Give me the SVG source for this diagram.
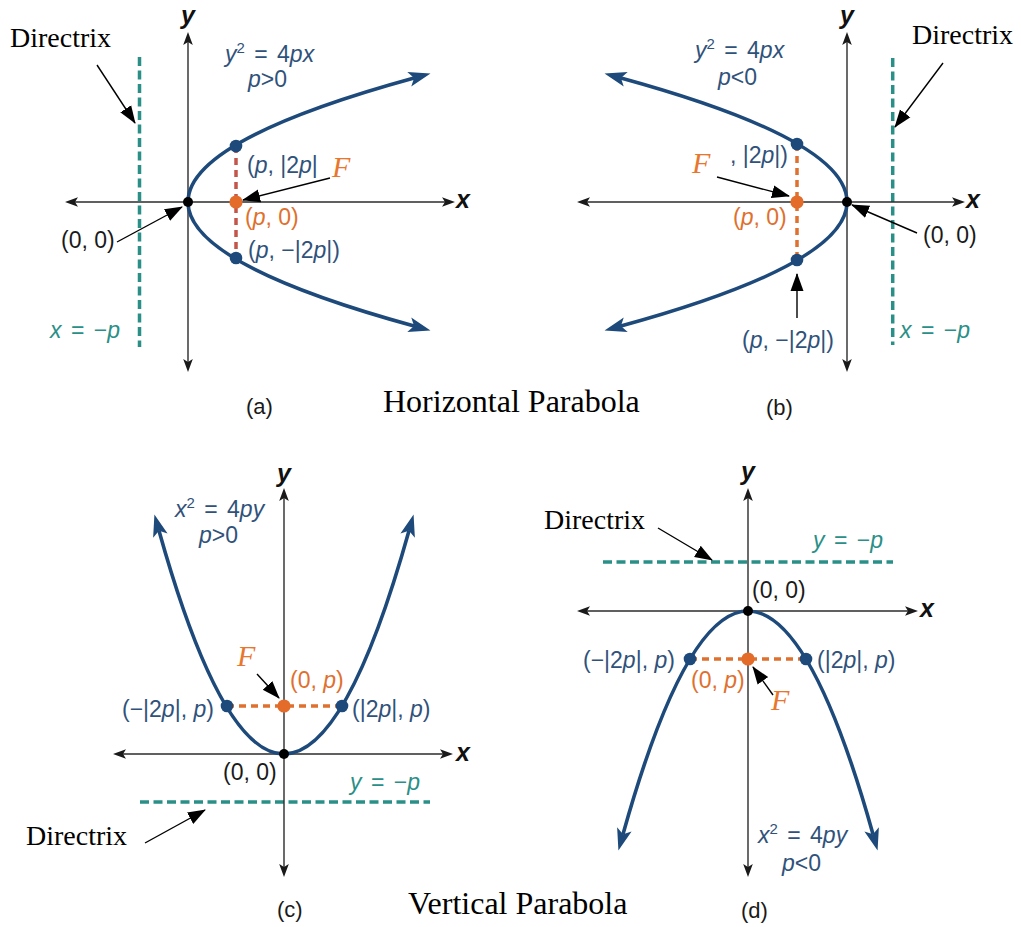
<svg xmlns="http://www.w3.org/2000/svg" width="1021" height="927" viewBox="0 0 1021 927">
<style>
.axis{stroke:#2b2b2b;stroke-width:1.4;fill:none;marker-start:url(#ax);marker-end:url(#ax)}
.curve{stroke:#1d4a7a;stroke-width:3.6;fill:none;marker-start:url(#cv);marker-end:url(#cv)}
.dirx{stroke:#2a8f87;stroke-width:3.5;stroke-dasharray:9 4.5;fill:none}
.chord{stroke:#e0702e;stroke-width:3.5;stroke-dasharray:7 5;fill:none}
.chordr{stroke:#c4554a;stroke-width:3.5;stroke-dasharray:7 5;fill:none}
.ptr{stroke:#000;stroke-width:1.4;fill:none;marker-end:url(#pt)}
.nd{fill:#1d4a7a}.fd{fill:#e46c2a}.od{fill:#000}
text{font-family:"Liberation Sans",Arial,sans-serif}
.lab{font-size:23px;fill:#30527a}
.olab{font-size:23px;fill:#e0702e}
.blab{font-size:23px;fill:#1a1a1a}
.tlab{font-size:23px;fill:#2a8f87}
.cap{font-size:22px;fill:#1a1a1a}
.ax{font-size:25px;font-weight:bold;font-style:italic;fill:#111}
.ser{font-family:"Liberation Serif","Times New Roman",serif;fill:#000}
.dir{font-size:28px}
.title{font-size:32px}
.F{font-family:"Liberation Serif","Times New Roman",serif;font-style:italic;font-size:30px;fill:#e8772e}
.i{font-style:italic}
.sup{font-size:15px}
.eq{word-spacing:3px}
</style>
<defs>
<marker id="ax" markerUnits="userSpaceOnUse" markerWidth="14" markerHeight="12" viewBox="0 -6 14 12" refX="3" refY="0" orient="auto-start-reverse"><path d="M13,0 L0,-4.8 L3,0 L0,4.8 z" fill="#1a1a1a"/></marker>
<marker id="cv" markerUnits="userSpaceOnUse" markerWidth="24" markerHeight="18" viewBox="0 -9 24 18" refX="5" refY="0" orient="auto-start-reverse"><path d="M22,0 L0,-7.5 L5,0 L0,7.5 z" fill="#1d4a7a"/></marker>
<marker id="pt" markerUnits="userSpaceOnUse" markerWidth="20" markerHeight="16" viewBox="0 -8 20 16" refX="17" refY="0" orient="auto"><path d="M18,0 L0,-6.5 L0,6.5 z" fill="#000"/></marker>
</defs>
<rect width="1021" height="927" fill="#fff"/>

<g id="panel-a">
<line class="dirx" x1="139.5" y1="57" x2="139.5" y2="347"/>
<line class="axis" x1="188" y1="42" x2="188" y2="362"/>
<line class="axis" x1="75" y1="202" x2="445" y2="202"/>
<path class="curve" d="M414.1,78 Q-38.1,202 414.1,326"/>
<line class="chordr" x1="236" y1="146" x2="236" y2="258"/>
<circle class="nd" cx="236" cy="146" r="6.3"/>
<circle class="nd" cx="236" cy="258" r="6.3"/>
<circle class="fd" cx="236" cy="202" r="6.6"/>
<circle class="od" cx="188" cy="202" r="5"/>
<text class="ax" x="181" y="24">y</text>
<text class="ax" x="456" y="208">x</text>
<text class="ser dir" x="10" y="47">Directrix</text>
<text class="lab eq" x="225" y="62"><tspan class="i">y</tspan><tspan class="sup" dy="-9">2</tspan><tspan dy="9"> = 4</tspan><tspan class="i">px</tspan></text>
<text class="lab" x="248" y="87"><tspan class="i">p</tspan>&gt;0</text>
<text class="lab" x="247" y="173">(<tspan class="i">p</tspan>, |2<tspan class="i">p</tspan>|</text>
<text class="F" x="332" y="177">F</text>
<text class="olab" x="245" y="225">(<tspan class="i">p</tspan>, 0)</text>
<text class="lab" x="248" y="258">(<tspan class="i">p</tspan>, −|2<tspan class="i">p</tspan>|)</text>
<text class="blab" x="61" y="248">(0, 0)</text>
<text class="tlab eq" x="50" y="338"><tspan class="i">x</tspan> = −<tspan class="i">p</tspan></text>
<text class="cap" x="246" y="414">(a)</text>
</g>

<g id="panel-b">
<line class="dirx" x1="892.7" y1="58" x2="892.7" y2="345"/>
<line class="axis" x1="847" y1="42" x2="847" y2="362"/>
<line class="axis" x1="587" y1="202" x2="955" y2="202"/>
<path class="curve" d="M620.9,78 Q1073.1,202 620.9,326"/>
<line class="chord" x1="797" y1="144" x2="797" y2="260"/>
<circle class="nd" cx="797" cy="144" r="6.3"/>
<circle class="nd" cx="797" cy="260" r="6.3"/>
<circle class="fd" cx="797" cy="202" r="6.6"/>
<circle class="od" cx="847" cy="202" r="5"/>
<text class="ax" x="840" y="24">y</text>
<text class="ax" x="966" y="208">x</text>
<text class="ser dir" x="912" y="44">Directrix</text>
<text class="lab eq" x="695" y="58"><tspan class="i">y</tspan><tspan class="sup" dy="-9">2</tspan><tspan dy="9"> = 4</tspan><tspan class="i">px</tspan></text>
<text class="lab" x="718" y="85"><tspan class="i">p</tspan>&lt;0</text>
<text class="lab" x="730" y="163">, |2<tspan class="i">p</tspan>|)</text>
<text class="F" x="692" y="173">F</text>
<text class="olab" x="733" y="225">(<tspan class="i">p</tspan>, 0)</text>
<text class="blab" x="923" y="243">(0, 0)</text>
<text class="lab" x="742" y="348">(<tspan class="i">p</tspan>, −|2<tspan class="i">p</tspan>|)</text>
<text class="tlab eq" x="900" y="338"><tspan class="i">x</tspan> = −<tspan class="i">p</tspan></text>
<text class="cap" x="766" y="415">(b)</text>
</g>

<g id="panel-c">
<line class="dirx" x1="140" y1="802" x2="430" y2="802"/>
<line class="axis" x1="284" y1="498" x2="284" y2="867"/>
<line class="axis" x1="123" y1="754" x2="443" y2="754"/>
<path class="curve" d="M159,530.8 Q284,977.2 409,530.8"/>
<line class="chord" x1="227" y1="706" x2="342" y2="706"/>
<circle class="nd" cx="227" cy="706" r="6.3"/>
<circle class="nd" cx="342" cy="706" r="6.3"/>
<circle class="fd" cx="284" cy="706" r="6.6"/>
<circle class="od" cx="284" cy="754" r="5"/>
<text class="ax" x="277" y="482">y</text>
<text class="ax" x="456" y="761">x</text>
<text class="ser dir" x="26" y="845">Directrix</text>
<text class="lab eq" x="175" y="517"><tspan class="i">x</tspan><tspan class="sup" dy="-9">2</tspan><tspan dy="9"> = 4</tspan><tspan class="i">py</tspan></text>
<text class="lab" x="199" y="543"><tspan class="i">p</tspan>&gt;0</text>
<text class="F" x="237" y="666">F</text>
<text class="olab" x="290" y="688">(0, <tspan class="i">p</tspan>)</text>
<text class="lab" x="122" y="717">(−|2<tspan class="i">p</tspan>|, <tspan class="i">p</tspan>)</text>
<text class="lab" x="352" y="717">(|2<tspan class="i">p</tspan>|, <tspan class="i">p</tspan>)</text>
<text class="blab" x="223" y="780">(0, 0)</text>
<text class="tlab eq" x="350" y="790"><tspan class="i">y</tspan> = −<tspan class="i">p</tspan></text>
<text class="cap" x="277" y="917">(c)</text>
</g>

<g id="panel-d">
<line class="dirx" x1="603" y1="562" x2="893" y2="562"/>
<line class="axis" x1="748" y1="498" x2="748" y2="867"/>
<line class="axis" x1="587" y1="611" x2="908" y2="611"/>
<path class="curve" d="M623,834.2 Q748,387.8 873,834.2"/>
<line class="chord" x1="690" y1="659" x2="806" y2="659"/>
<circle class="nd" cx="690" cy="659" r="6.3"/>
<circle class="nd" cx="806" cy="659" r="6.3"/>
<circle class="fd" cx="748" cy="659" r="6.6"/>
<circle class="od" cx="748" cy="611" r="5"/>
<text class="ax" x="741" y="480">y</text>
<text class="ax" x="920" y="617">x</text>
<text class="ser dir" x="544" y="529">Directrix</text>
<text class="tlab eq" x="813" y="548"><tspan class="i">y</tspan> = −<tspan class="i">p</tspan></text>
<text class="blab" x="752" y="598">(0, 0)</text>
<text class="lab" x="583" y="668">(−|2<tspan class="i">p</tspan>|, <tspan class="i">p</tspan>)</text>
<text class="lab" x="817" y="668">(|2<tspan class="i">p</tspan>|, <tspan class="i">p</tspan>)</text>
<text class="olab" x="691" y="688">(0, <tspan class="i">p</tspan>)</text>
<text class="F" x="771" y="710">F</text>
<text class="lab eq" x="758" y="843"><tspan class="i">x</tspan><tspan class="sup" dy="-9">2</tspan><tspan dy="9"> = 4</tspan><tspan class="i">py</tspan></text>
<text class="lab" x="782" y="871"><tspan class="i">p</tspan>&lt;0</text>
<text class="cap" x="741" y="918">(d)</text>
</g>

<g id="titles">
<text class="ser title" x="383" y="412">Horizontal Parabola</text>
<text class="ser title" x="408" y="914">Vertical Parabola</text>
</g>

<g id="connectors">
<line class="ptr" x1="97" y1="65" x2="135" y2="123"/>
<line class="ptr" x1="330" y1="178" x2="243" y2="200"/>
<line class="ptr" x1="117" y1="242" x2="182" y2="207"/>
<line class="ptr" x1="943" y1="63" x2="895" y2="127"/>
<line class="ptr" x1="717" y1="177" x2="789" y2="196"/>
<line class="ptr" x1="917" y1="233" x2="852" y2="205"/>
<line class="ptr" x1="797" y1="318" x2="797" y2="274"/>
<line class="ptr" x1="145" y1="843" x2="205" y2="810"/>
<line class="ptr" x1="257" y1="674" x2="279" y2="698"/>
<line class="ptr" x1="658" y1="528" x2="712" y2="560"/>
<line class="ptr" x1="773" y1="695" x2="753" y2="667"/>
</g>
</svg>
